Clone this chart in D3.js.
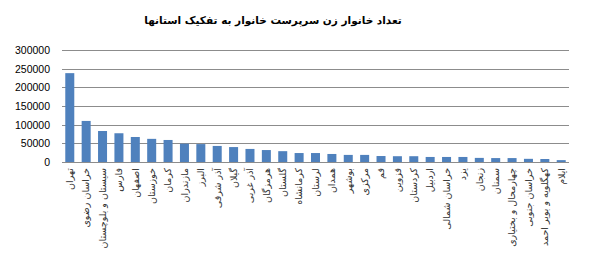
<!DOCTYPE html>
<html>
<head>
<meta charset="utf-8">
<script src="https://cdn.jsdelivr.net/npm/d3@7"></script>
<style>
  body { margin: 0; background: #fff; }
  svg { display: block; }
</style>
</head>
<body>
<div id="chart"></div>
<script>
// provinces, sorted as in the source chart
var provinces = [
  "تهران", "خراسان رضوی", "سیستان و بلوچستان", "فارس", "اصفهان", "خوزستان",
  "کرمان", "مازندران", "البرز", "آذر شرقی", "گیلان", "آذر غربی", "هرمزگان",
  "گلستان", "کرمانشاه", "لرستان", "همدان", "بوشهر", "مرکزی", "قم", "قزوین",
  "کردستان", "اردبیل", "خراسان شمالی", "یزد", "زنجان", "سمنان",
  "چهارمحال و بختیاری", "خراسان جنوبی", "کهگلویه و بویر احمد", "ایلام"
];

// number of female-headed households
var households = [
  238000, 110000, 83000, 77000, 67000, 62000,
  59000, 49000, 48000, 43000, 40000, 35000, 32000,
  29000, 24000, 24000, 21500, 19000, 19000, 16000, 15500,
  15500, 13500, 13500, 13500, 11000, 10500,
  10500, 8500, 8000, 5000
];

var yTicks = [0, 50000, 100000, 150000, 200000, 250000, 300000];

var title = "تعداد خانوار زن سرپرست خانوار به تفکیک استانها";

document.addEventListener("DOMContentLoaded", function () {

  var w = 610, h = 262;
  var mLeft = 62, mRight = 569, mTop = 50, mBottom = 162;

  var svg = d3.select("#chart").append("svg")
    .attr("width", w)
    .attr("height", h);

  var x = d3.scaleBand()
    .domain(provinces)
    .range([mLeft, mRight])
    .paddingInner(0.45)
    .paddingOuter(0.2);

  var y = d3.scaleLinear()
    .domain([0, 300000])
    .range([mBottom, mTop]);

  // gridlines
  svg.append("g")
    .selectAll("line")
    .data(yTicks)
    .enter()
    .append("line")
    .attr("x1", mLeft)
    .attr("x2", mRight)
    .attr("y1", d => Math.round(y(d)) + 0.5)
    .attr("y2", d => Math.round(y(d)) + 0.5)
    .attr("stroke", "#8c8c8c")
    .attr("stroke-width", 1);

  // bars
  svg.append("g")
    .attr("fill", "#4f81bd")
    .selectAll("rect")
    .data(households)
    .enter()
    .append("rect")
    .attr("x", (d, i) => x(provinces[i]))
    .attr("y", d => y(d))
    .attr("width", x.bandwidth())
    .attr("height", d => y(0) - y(d));

  // y axis labels
  var yAxis = d3.axisLeft(y)
    .tickValues(yTicks)
    .tickSize(0)
    .tickPadding(12)
    .tickFormat(d3.format("d"));

  svg.append("g")
    .attr("class", "y axis")
    .attr("transform", "translate(" + mLeft + ",0)")
    .call(yAxis)
    .call(g => g.select(".domain").remove())
    .selectAll("text")
    .attr("font-family", "Liberation Sans, Arial, sans-serif")
    .attr("font-size", "10.5px")
    .attr("fill", "#000");

  // x axis with rotated province names
  var xAxis = d3.axisBottom(x).tickSize(0).tickPadding(0);

  svg.append("g")
    .attr("class", "x axis")
    .attr("transform", "translate(0," + mBottom + ")")
    .call(xAxis)
    .call(g => g.select(".domain").remove())
    .selectAll("text")
    .attr("font-family", "DejaVu Sans, sans-serif")
    .attr("font-size", "9.5px")
    .attr("fill", "#333")
    .attr("text-anchor", "end")
    .attr("dy", "0.35em")
    .attr("y", 0)
    .attr("transform", "rotate(-90) translate(-6,0)");

  // title
  svg.append("text")
    .attr("x", 273)
    .attr("y", 24)
    .attr("text-anchor", "middle")
    .attr("font-family", "DejaVu Sans, sans-serif")
    .attr("font-weight", "bold")
    .attr("font-size", "10.5px")
    .attr("fill", "#000")
    .text(title);
});
</script>
</body>
</html>
